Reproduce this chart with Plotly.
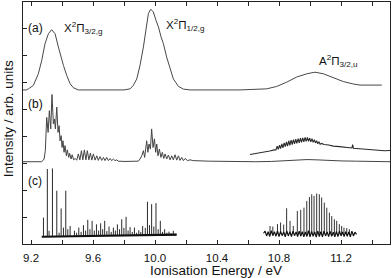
import plotly.graph_objects as go

# ---------------- data ----------------
# (a) low-resolution spectrum (energy eV, intensity arb.)
a_E = [9.148, 9.17, 9.183, 9.215, 9.247, 9.269, 9.290, 9.312, 9.333, 9.355, 9.376, 9.387,
       9.409, 9.430, 9.452, 9.473, 9.505, 9.60, 9.70, 9.80, 9.839, 9.860, 9.882, 9.903,
       9.925, 9.942, 9.957, 9.972, 9.989, 10.006, 10.022, 10.039, 10.054, 10.075, 10.097,
       10.118, 10.151, 10.183, 10.226, 10.35, 10.548, 10.72, 10.785, 10.850, 10.914,
       10.979, 11.032, 11.086, 11.151, 11.215, 11.280, 11.323, 11.40, 11.463]
a_I = [5.73, 5.73, 5.77, 5.90, 6.33, 6.83, 7.45, 7.82, 7.97, 7.82, 7.33, 7.08,
       6.64, 6.27, 5.96, 5.81, 5.73, 5.73, 5.73, 5.73, 5.77, 5.90, 6.14, 6.64,
       7.33, 8.07, 8.57, 8.73, 8.63, 8.32, 8.07, 7.70, 7.45, 6.95, 6.52,
       6.14, 5.86, 5.76, 5.73, 5.73, 5.73, 5.77, 5.86, 6.02, 6.21,
       6.33, 6.39, 6.33, 6.18, 6.04, 5.95, 5.91, 5.91, 5.91]

# (b) higher-resolution spectrum, full range
b_E = [9.148, 9.269, 9.284, 9.292, 9.301, 9.310, 9.318, 9.327, 9.335, 9.344, 9.351, 9.357,
       9.366, 9.374, 9.381, 9.387, 9.394, 9.400, 9.406, 9.413, 9.419, 9.428, 9.434, 9.443,
       9.449, 9.458, 9.465, 9.475, 9.484, 9.495, 9.505, 9.515, 9.525, 9.534, 9.544, 9.554,
       9.563, 9.573, 9.583, 9.592, 9.602, 9.613, 9.624, 9.634, 9.645, 9.656, 9.667, 9.677,
       9.688, 9.699, 9.710, 9.720, 9.731, 9.742, 9.753, 9.763, 9.806, 9.892, 9.903, 9.914,
       9.925, 9.933, 9.946, 9.954, 9.961, 9.970, 9.978, 9.987, 9.996, 10.004, 10.011, 10.019,
       10.028, 10.038, 10.047, 10.056, 10.065, 10.075, 10.086, 10.097, 10.108, 10.118, 10.129,
       10.140, 10.151, 10.161, 10.172, 10.183, 10.194, 10.209, 10.226, 10.247, 10.35, 10.45,
       10.55, 10.65, 10.75, 10.85, 10.92, 10.98, 11.04, 11.10, 11.20, 11.30, 11.40, 11.516]
b_I = [3.06, 3.06, 3.16, 3.47, 4.71, 4.15, 4.96, 4.28, 5.56, 4.47, 4.65, 4.28,
       5.09, 4.15, 4.40, 3.84, 4.03, 3.59, 3.84, 3.41, 3.66, 3.28, 3.50, 3.22,
       3.37, 3.16, 3.32, 3.13, 3.18, 3.12, 3.35, 3.13, 3.47, 3.13, 3.50, 3.13,
       3.47, 3.13, 3.38, 3.12, 3.35, 3.12, 3.28, 3.11, 3.25, 3.11, 3.22, 3.10,
       3.22, 3.10, 3.18, 3.10, 3.16, 3.10, 3.13, 3.08, 3.07, 3.08, 3.16, 3.28,
       3.47, 3.22, 3.84, 3.41, 3.72, 3.53, 4.28, 3.59, 3.91, 3.41, 3.72, 3.28,
       3.53, 3.22, 3.41, 3.18, 3.35, 3.16, 3.31, 3.13, 3.28, 3.13, 3.32,
       3.12, 3.28, 3.11, 3.22, 3.10, 3.18, 3.10, 3.13, 3.10, 3.08, 3.07,
       3.06, 3.06, 3.07, 3.10, 3.12, 3.14, 3.13, 3.11, 3.09, 3.08, 3.07, 3.06]

# (b) expanded A-state band
bA_E = [10.613, 10.65, 10.70, 10.74, 10.77, 10.780, 10.788, 10.795, 10.803, 10.810, 10.818,
        10.825, 10.833, 10.840, 10.848, 10.855, 10.863, 10.870, 10.878, 10.885, 10.893,
        10.900, 10.908, 10.915, 10.923, 10.930, 10.938, 10.945, 10.953, 10.960, 10.968,
        10.975, 10.983, 10.990, 10.998, 11.005, 11.013, 11.020, 11.028, 11.035, 11.043,
        11.050, 11.058, 11.065, 11.075, 11.09, 11.12, 11.15, 11.19, 11.22, 11.25, 11.27,
        11.275, 11.28, 11.32, 11.36, 11.40, 11.44, 11.48, 11.516]
bA_I = [3.33, 3.36, 3.41, 3.46, 3.50, 3.50, 3.64, 3.52, 3.68, 3.55, 3.72,
        3.58, 3.76, 3.62, 3.80, 3.64, 3.84, 3.67, 3.86, 3.70, 3.88,
        3.72, 3.90, 3.74, 3.92, 3.76, 3.94, 3.78, 3.95, 3.80, 3.96,
        3.82, 3.96, 3.82, 3.94, 3.80, 3.92, 3.78, 3.88, 3.76, 3.84,
        3.73, 3.80, 3.71, 3.74, 3.70, 3.68, 3.64, 3.62, 3.60, 3.58, 3.57,
        3.70, 3.56, 3.54, 3.52, 3.50, 3.49, 3.47, 3.48]

# (c) stick spectrum, X states
cX_E = [9.280, 9.305, 9.316, 9.338, 9.366, 9.381, 9.394, 9.409, 9.424, 9.437, 9.452,
        9.480, 9.494, 9.508, 9.523, 9.538, 9.552, 9.566, 9.580, 9.594, 9.608, 9.622,
        9.636, 9.649, 9.662, 9.675, 9.689, 9.703, 9.717, 9.731, 9.744, 9.757, 9.771,
        9.785, 9.799, 9.813, 9.826, 9.839, 9.853, 9.867, 9.881, 9.895, 9.908, 9.920,
        9.937, 9.951, 9.964, 9.978, 9.992, 10.006, 10.020, 10.034, 10.048, 10.062,
        10.076, 10.090, 10.104, 10.118, 10.13]
cX_I = [0.98, 2.79, 0.49, 2.81, 1.98, 0.42, 1.32, 0.61, 1.98, 0.55, 0.67,
        0.49, 0.42, 0.61, 0.45, 0.70, 0.50, 0.90, 0.55, 0.86, 0.50, 0.73,
        0.50, 0.77, 0.55, 0.86, 0.48, 0.65, 0.45, 0.61, 0.50, 0.73, 0.55,
        0.92, 0.60, 1.01, 0.50, 0.63, 0.45, 0.61, 0.42, 0.51, 0.45, 0.67,
        0.60, 1.57, 0.70, 1.48, 0.65, 1.52, 0.55, 0.86, 0.45, 0.55,
        0.42, 0.46, 0.40, 0.49, 0.38]
cX_base_E = [9.269, 9.40, 9.55, 9.70, 9.80, 9.90, 10.00, 10.14]
cX_base_I = [0.27, 0.28, 0.29, 0.31, 0.33, 0.33, 0.34, 0.35]

# (c) stick spectrum, A state
cA_E = [10.742, 10.76, 10.79, 10.81, 10.83, 10.849, 10.871, 10.892, 10.918, 10.940,
        10.961, 10.979, 10.996, 11.011, 11.026, 11.043, 11.060, 11.075, 11.092, 11.108,
        11.125, 11.140, 11.157, 11.172, 11.189, 11.204, 11.219, 11.237, 11.254]
cA_I = [0.67, 0.65, 0.74, 0.80, 0.72, 1.33, 0.86, 0.67, 1.23, 1.27,
        1.35, 1.60, 1.75, 1.85, 1.79, 1.88, 1.85, 1.73, 1.54, 1.35,
        1.17, 1.04, 0.92, 0.86, 0.74, 0.67, 0.61, 0.59, 0.55]
cA_noise_E = [10.70, 10.71, 10.72, 10.73, 10.74, 10.75, 10.76, 10.77, 10.78, 10.79,
              10.80, 10.81, 10.82, 10.83, 10.84, 10.85, 10.86, 10.87, 10.88, 10.89,
              10.90, 10.91, 10.92, 10.93, 10.94, 10.95, 10.96, 10.97, 10.98, 10.99,
              11.00, 11.01, 11.02, 11.03, 11.04, 11.05, 11.06, 11.07, 11.08, 11.09,
              11.10, 11.11, 11.12, 11.13, 11.14, 11.15, 11.16, 11.17, 11.18, 11.19,
              11.20, 11.21, 11.22, 11.23, 11.24, 11.25, 11.26, 11.27, 11.28, 11.29, 11.30]
cA_noise_I = [0.40, 0.48, 0.30, 0.46, 0.28, 0.50, 0.31, 0.46, 0.29, 0.49,
              0.28, 0.47, 0.31, 0.45, 0.27, 0.49, 0.30, 0.46, 0.28, 0.48,
              0.31, 0.45, 0.28, 0.48, 0.29, 0.46, 0.27, 0.45, 0.28, 0.50,
              0.27, 0.47, 0.29, 0.45, 0.26, 0.48, 0.28, 0.46, 0.27, 0.48,
              0.30, 0.45, 0.28, 0.47, 0.29, 0.44, 0.27, 0.46, 0.28, 0.48,
              0.30, 0.45, 0.28, 0.46, 0.29, 0.45, 0.27, 0.48, 0.30, 0.44, 0.36]

cX_baseline = 0.30
cA_baseline = 0.38

x_tick_vals = [9.2, 9.6, 10.0, 10.4, 10.8, 11.2]
x_tick_text = ["9.2", "9.6", "10.0", "10.4", "10.8", "11.2"]
x_title = "Ionisation Energy / eV"
y_title = "Intensity / arb. units"


def sticks(E, I, base):
    xs, ys = [], []
    for e, i in zip(E, I):
        xs += [e, e, None]
        ys += [base, i, None]
    return xs, ys


FONT = "Arial, Liberation Sans, sans-serif"
fig = go.Figure()

fig.add_trace(go.Scatter(x=a_E, y=a_I, mode="lines", line=dict(color="#484848", width=1), hoverinfo="skip"))
fig.add_trace(go.Scatter(x=b_E, y=b_I, mode="lines", line=dict(color="#444", width=1), hoverinfo="skip"))
fig.add_trace(go.Scatter(x=bA_E, y=bA_I, mode="lines", line=dict(color="#2a2a2a", width=1.1), hoverinfo="skip"))

sx, sy = sticks(cX_E, cX_I, cX_baseline)
fig.add_trace(go.Scatter(x=sx, y=sy, mode="lines", line=dict(color="#2a2a2a", width=1), hoverinfo="skip"))
fig.add_trace(go.Scatter(x=cX_base_E, y=cX_base_I, mode="lines", line=dict(color="#111", width=2.2), hoverinfo="skip"))
sx, sy = sticks(cA_E, cA_I, cA_baseline)
fig.add_trace(go.Scatter(x=sx, y=sy, mode="lines", line=dict(color="#333", width=1), hoverinfo="skip"))
fig.add_trace(go.Scatter(x=cA_noise_E, y=cA_noise_I, mode="lines", line=dict(color="#111", width=1.2), hoverinfo="skip"))

ann_font = dict(family=FONT, size=12, color="#111")
sym_font = dict(family=FONT, size=11.5, color="#111")
title_font = dict(family=FONT, size=13.5, color="#111")
annotations = [
    dict(x=9.170, y=8.02, text="(a)", xanchor="left", yanchor="middle", showarrow=False, font=ann_font),
    dict(x=9.170, y=5.22, text="(b)", xanchor="left", yanchor="middle", showarrow=False, font=ann_font),
    dict(x=9.170, y=2.35, text="(c)", xanchor="left", yanchor="middle", showarrow=False, font=ann_font),
    dict(x=9.400, y=8.02, text="X<sup>2</sup>Π<sub>3/2,g</sub>", xanchor="left", yanchor="middle",
         showarrow=False, font=sym_font),
    dict(x=10.060, y=8.15, text="X<sup>2</sup>Π<sub>1/2,g</sub>", xanchor="left", yanchor="middle",
         showarrow=False, font=sym_font),
    dict(x=11.048, y=6.80, text="A<sup>2</sup>Π<sub>3/2,u</sub>", xanchor="left", yanchor="middle",
         showarrow=False, font=sym_font),
    dict(xref="paper", yref="paper", x=0.527, y=-0.108, text=x_title, xanchor="center",
         yanchor="middle", showarrow=False, font=title_font),
    dict(xref="paper", yref="paper", x=-0.041, y=0.519, text=y_title, textangle=-90,
         xanchor="center", yanchor="middle", showarrow=False, font=title_font),
]

fig.update_layout(
    width=392, height=278,
    margin=dict(l=23, r=2, t=2, b=34),
    paper_bgcolor="white", plot_bgcolor="white",
    showlegend=False,
    annotations=annotations,
    font=dict(family=FONT, color="#111"),
)
fig.update_xaxes(
    range=[9.148, 11.516], showgrid=False, zeroline=False, automargin=False,
    showline=True, linecolor="#222", linewidth=1, mirror="ticks",
    ticks="inside", ticklen=4, tickcolor="#222",
    tickvals=x_tick_vals, ticktext=x_tick_text,
    tickfont=dict(family=FONT, size=11.5, color="#111"),
    ticklabelstandoff=3,
    minor=dict(ticks="inside", dtick=0.2, tick0=9.2, ticklen=4, tickcolor="#222"),
)
fig.update_yaxes(
    range=[0, 9], showgrid=False, zeroline=False, automargin=False,
    showline=True, linecolor="#222", linewidth=1, mirror=True,
    ticks="inside", ticklen=4, tickcolor="#222", dtick=1, tick0=0,
    showticklabels=False,
)

fig.write_html(
    "out.html",
    config={"displayModeBar": False},
    post_script="document.body.style.margin='0px';document.body.style.overflow='hidden';",
)
